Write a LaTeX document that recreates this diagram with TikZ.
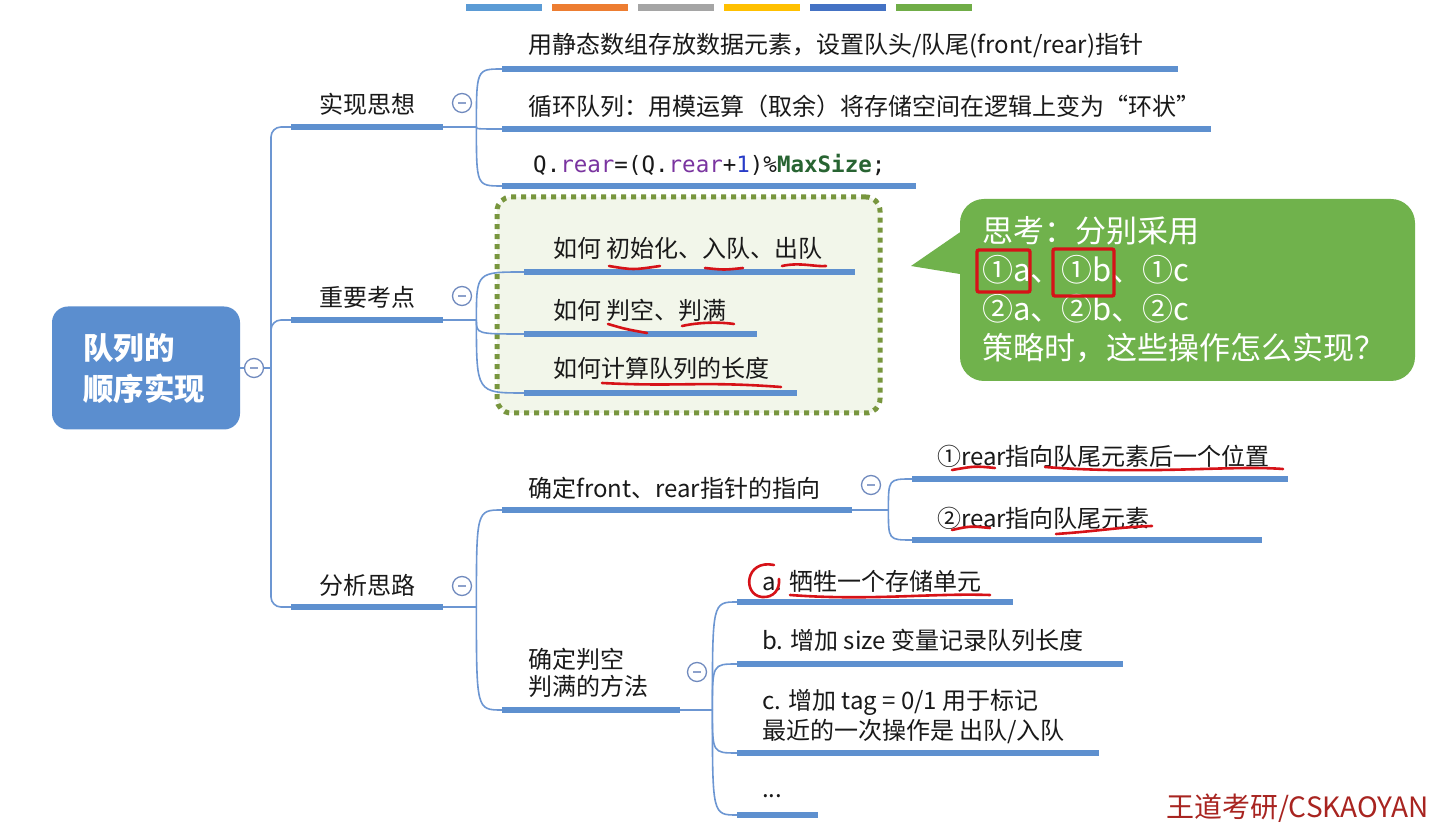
\documentclass[tikz,border=0pt]{standalone}
\usepackage{fontspec}
\setmainfont{Noto Sans CJK SC}
\newfontfamily\codefont{DejaVu Sans Mono}
\usepackage{tikz}
\usetikzlibrary{positioning, calc}
\usepackage{xcolor}
\definecolor{cBar}{RGB}{94,144,207}
\definecolor{cLine}{RGB}{108,150,210}
\definecolor{cRoot}{RGB}{91,142,207}
\definecolor{cBtn}{RGB}{112,138,190}
\definecolor{cHintEdge}{RGB}{120,150,62}
\definecolor{cHintFill}{RGB}{242,246,234}
\definecolor{cThink}{RGB}{112,178,76}
\definecolor{cMark}{RGB}{214,18,24}
\definecolor{cBrand}{RGB}{168,36,32}
\definecolor{cText}{RGB}{25,25,25}
\definecolor{cRear}{RGB}{122,52,160}
\definecolor{cNum}{RGB}{40,60,200}
\definecolor{cMacro}{RGB}{40,100,50}
\definecolor{cTab1}{RGB}{91,155,213}
\definecolor{cTab2}{RGB}{237,125,49}
\definecolor{cTab3}{RGB}{165,165,165}
\definecolor{cTab4}{RGB}{255,192,0}
\definecolor{cTab5}{RGB}{68,114,196}
\definecolor{cTab6}{RGB}{112,173,71}
\tikzset{
  rootnode/.style={rectangle, rounded corners=16pt, fill=cRoot, text=white,
                   align=left, font=\fontsize{30.5}{41}\selectfont\bfseries,
                   text width=126pt, inner xsep=31pt, minimum height=123pt},
  topic/.style={text=cText, font=\fontsize{24}{28}\selectfont, inner sep=0pt},
  leaf/.style={topic, anchor=west, align=left},
  bar/.style={rectangle, fill=cBar, inner sep=0pt, minimum height=6pt, anchor=west},
  branch/.style={draw=cLine, line width=1.6pt},
  minusbtn/.style={circle, draw=cBtn, line width=1.3pt, fill=white,
                   minimum size=19pt, inner sep=0pt,
                   path picture={\draw[cBtn!80, line width=1.4pt]
                     ([xshift=-4pt]path picture bounding box.center) --
                     ([xshift=4pt]path picture bounding box.center);}},
  hintbox/.style={rectangle, rounded corners=14pt, fill=cHintFill, draw=cHintEdge,
                  line width=5pt, dash pattern=on 5pt off 5pt},
  thinkbox/.style={rectangle, rounded corners=24pt, fill=cThink, text=white,
                   align=left, font=\fontsize{31}{39}\selectfont, inner xsep=22pt},
  redmark/.style={draw=cMark, line width=2.6pt, line cap=round},
  tabbar/.style={rectangle, fill=#1, minimum width=76pt, minimum height=7pt, inner sep=0pt}
}
\begin{document}
\begin{tikzpicture}[x=1pt, y=1pt]

  \useasboundingbox (0,0) rectangle (1438,827);
  \fill[white] (0,0) rectangle (1438,827);

  % Colour tabs
  \foreach \c [count=\i] in {cTab1,cTab2,cTab3,cTab4,cTab5,cTab6}
    \node[tabbar=\c] (tab\i) at ({418+86*\i},819) {};

  % Root
  \node[rootnode] (root) at (146,459) {队列的\\顺序实现};
  \node[minusbtn] (rootbtn) at (254,459) {};
  \coordinate (trunk) at (271,459);

  % Dotted frame behind the key points
  \node[hintbox, minimum width=383pt, minimum height=216pt] (hint) at (688.5,522) {};

  % First level
  \node[bar, minimum width=152pt] (ideabar) at (291,700) {};
  \node[bar, minimum width=152pt] (keybar)  at (291,507) {};
  \node[bar, minimum width=152pt] (howbar)  at (291,220) {};
  \node[topic] (ideatxt) at ([yshift=23pt]ideabar.center) {实现思想};
  \node[topic] (keytxt)  at ([yshift=23pt]keybar.center)  {重要考点};
  \node[topic] (howtxt)  at ([yshift=22pt]howbar.center)  {分析思路};
  \node[minusbtn] (ideabtn) at (462,724) {};
  \node[minusbtn] (keybtn)  at (462,531) {};
  \node[minusbtn] (howbtn)  at (462,241) {};

  % Implementation idea
  \node[bar, minimum width=676pt] (idea1) at (502,758) {};
  \node[bar, minimum width=709pt] (idea2) at (502,698) {};
  \node[bar, minimum width=414pt] (idea3) at (502,641) {};
  \node[leaf] (idea1txt) at ([xshift=26pt,yshift=23pt]idea1.west)
      {用静态数组存放数据元素，设置队头/队尾(front/rear)指针};
  \node[leaf] (idea2txt) at ([xshift=26pt,yshift=23pt]idea2.west)
      {循环队列：用模运算（取余）将存储空间在逻辑上变为“环状”};
  \node[leaf, font=\codefont\fontsize{22.5}{26}\selectfont] (idea3txt)
      at ([xshift=31pt,yshift=21pt]idea3.west)
      {Q.\textcolor{cRear}{rear}=(Q.\textcolor{cRear}{rear}+\textcolor{cNum}{1})\%\textcolor{cMacro}{\bfseries MaxSize};};

  % Key points
  \node[bar, minimum width=331pt] (key1) at (524,555) {};
  \node[bar, minimum width=233pt] (key2) at (524,493) {};
  \node[bar, minimum width=273pt] (key3) at (524,434) {};
  \node[leaf] (key1txt) at ([xshift=29pt,yshift=24pt]key1.west) {如何 初始化、入队、出队};
  \node[leaf] (key2txt) at ([xshift=29pt,yshift=24pt]key2.west) {如何 判空、判满};
  \node[leaf] (key3txt) at ([xshift=29pt,yshift=25pt]key3.west) {如何计算队列的长度};

  % Thinking bubble
  \fill[cThink] (972,603) -- (911,561) -- (972,551) -- cycle;
  \node[thinkbox, minimum width=455pt, minimum height=182pt, text width=411pt] (think)
      at (1187.5,537) {思考：分别采用\\①a、①b、①c\\②a、②b、②c\\策略时，这些操作怎么实现？};

  % Analysis
  \node[bar, minimum width=350pt] (how1) at (502,317) {};
  \node[bar, minimum width=178pt] (how2) at (502,117) {};
  \node[leaf] (how1txt) at ([xshift=26pt,yshift=22pt]how1.west) {确定front、rear指针的指向};
  \node[leaf, font=\fontsize{24}{27}\selectfont] (how2txt)
      at ([xshift=26pt,yshift=37pt]how2.west) {确定判空\\判满的方法};
  \node[minusbtn] (how1btn) at (871,342) {};
  \node[minusbtn] (how2btn) at (697,155) {};

  \node[bar, minimum width=376pt] (ptr1) at (912,348) {};
  \node[bar, minimum width=350pt] (ptr2) at (912,287) {};
  \node[leaf] (ptr1txt) at ([xshift=25pt,yshift=23pt]ptr1.west) {①rear指向队尾元素后一个位置};
  \node[leaf] (ptr2txt) at ([xshift=25pt,yshift=22pt]ptr2.west) {②rear指向队尾元素};

  \node[bar, minimum width=276pt] (way1) at (737,225) {};
  \node[bar, minimum width=386pt] (way2) at (737,163) {};
  \node[bar, minimum width=362pt] (way3) at (737,74) {};
  \node[bar, minimum width=81pt]  (way4) at (737,12) {};
  \node[leaf] (way1txt) at ([xshift=25pt,yshift=21pt]way1.west) {a. 牺牲一个存储单元};
  \node[leaf] (way2txt) at ([xshift=25pt,yshift=24pt]way2.west) {b. 增加 size 变量记录队列长度};
  \node[leaf, font=\fontsize{24}{30}\selectfont] (way3txt)
      at ([xshift=25pt,yshift=36pt]way3.west) {c. 增加 tag = 0/1 用于标记\\最近的一次操作是 出队/入队};
  \node[leaf] (way4txt) at ([xshift=25pt,yshift=19pt]way4.west) {...};

  % Connectors
  \draw[branch] (root.east) -- (rootbtn.west);
  \draw[branch] (rootbtn.east) -- (trunk);
  \draw[branch, rounded corners=10pt] (ideabar.west) -| (trunk) |- (howbar.west);
  \draw[branch, rounded corners=10pt] (trunk) |- (keybar.west);

  \coordinate (ideaj) at ([xshift=33pt]ideabar.east);
  \coordinate (keyj)  at ([xshift=33pt]keybar.east);
  \coordinate (howj)  at ([xshift=33pt]howbar.east);
  \coordinate (how1j) at ([xshift=36pt]how1.east);
  \coordinate (how2j) at ([xshift=32pt]how2.east);
  \draw[branch] (ideabar.east) -- (ideaj);
  \draw[branch] (keybar.east) -- (keyj);
  \draw[branch] (howbar.east) -- (howj);
  \draw[branch] (how1.east) -- (how1j);
  \draw[branch] (how2.east) -- (how2j);
  \foreach \j/\c in {ideaj/idea1, ideaj/idea2, ideaj/idea3, keyj/key1, keyj/key2, keyj/key3,
                     howj/how1, howj/how2, how1j/ptr1, how1j/ptr2,
                     how2j/way1, how2j/way2, how2j/way3, how2j/way4}
    \draw[branch] (\j) .. controls (\j |- \c.west) .. (\c.west);

  % Red pen marks
  \draw[redmark] (609,561) .. controls (633,557) .. (660,561);
  \draw[redmark] (705,559) .. controls (724,557) .. (743,559);
  \draw[redmark] (782,561) .. controls (800,565) and (815,560) .. (826,561);
  \draw[redmark] (608,503) .. controls (625,498) .. (647,494);
  \draw[redmark] (682,501) .. controls (700,505) and (720,505) .. (734,503);
  \draw[redmark] (602,444) .. controls (680,440) and (700,446) .. (781,440);
  \draw[redmark] (952,357) .. controls (975,361) .. (995,359);
  \draw[redmark] (1045,360) .. controls (1150,352) and (1230,362) .. (1283,358);
  \draw[redmark] (952,297) .. controls (970,301) .. (990,299);
  \draw[redmark] (1056,293) .. controls (1100,296) and (1120,300) .. (1152,301);
  \draw[redmark] (774,262) .. controls (745,268) and (742,232) .. (762,230)
                 .. controls (774,229) and (780,238) .. (779,248);
  \draw[redmark] (790,232) .. controls (870,226) and (930,234) .. (990,232);
  \draw[redmark, line width=3.4pt, rounded corners=2pt] (977,577) rectangle (1030,535);
  \draw[redmark, line width=3.4pt, rounded corners=2pt] (1053,578) rectangle (1114,531);

  % Brand mark
  \node[anchor=west, text=cBrand, font=\fontsize{28}{30}\selectfont, inner sep=0pt] (brand)
      at (1166,19) {王道考研/CSKAOYAN};

\end{tikzpicture}
\end{document}
